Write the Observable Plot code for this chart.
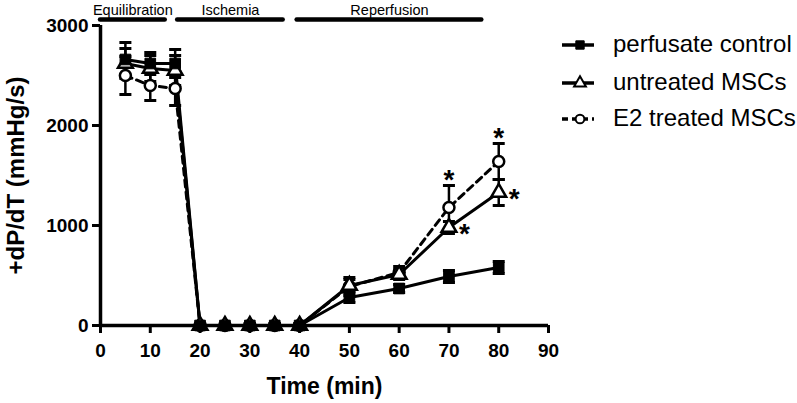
<!DOCTYPE html>
<html>
<head>
<meta charset="utf-8">
<script src="https://cdn.jsdelivr.net/npm/d3@7"></script>
<script src="https://cdn.jsdelivr.net/npm/@observablehq/plot@0.6"></script>
<style>
  html, body { margin: 0; padding: 0; background: #fff; }
  #chart { width: 797px; height: 403px; }
</style>
</head>
<body>
<div id="chart"></div>
<script>
// ---- data ----
const times = [5, 10, 15, 20, 25, 30, 35, 40, 50, 60, 70, 80];
const seriesNames = ["perfusate control", "untreated MSCs", "E2 treated MSCs"];
const controlValues   = [2660, 2620, 2620, 0, 0, 0, 0, 0, 280, 370, 490, 580];
const controlErr      = [170, 110, 140, 20, 20, 20, 20, 20, 50, 40, 60, 60];
const untreatedValues = [2620, 2570, 2550, 0, 0, 0, 0, 0, 400, 510, 980, 1330];
const untreatedErr    = [150, 130, 150, 20, 20, 20, 20, 20, 60, 50, 60, 130];
const e2Values        = [2500, 2400, 2370, 0, 0, 0, 0, 0, 390, 530, 1180, 1640];
const e2Err           = [190, 150, 170, 20, 20, 20, 20, 20, 90, 60, 220, 180];
const xTicks = [0, 10, 20, 30, 40, 50, 60, 70, 80, 90];
const yTicks = [0, 1000, 2000, 3000];
const phaseLabels = ["Equilibration", "Ischemia", "Reperfusion"];
const phaseStart = [0, 15.5, 39.5];
const phaseEnd = [13, 36.7, 76.6];
const phaseLevel = 3060;
const starAbove = [{t: 70, v: 1400}, {t: 80, v: 1820}];
const starRight = [{t: 70, v: 980}, {t: 80, v: 1330}];

// ---- build tables ----
const valueSets = [controlValues, untreatedValues, e2Values];
const errSets = [controlErr, untreatedErr, e2Err];
const rows = [];
seriesNames.forEach((name, s) => {
  times.forEach((t, i) => {
    rows.push({series: name, t, v: valueSets[s][i], lo: valueSets[s][i] - errSets[s][i], hi: valueSets[s][i] + errSets[s][i]});
  });
});
const bySeries = name => rows.filter(d => d.series === name);
const phases = phaseLabels.map((label, i) => ({label, start: phaseStart[i], end: phaseEnd[i], mid: (phaseStart[i] + phaseEnd[i]) / 2}));

const capSymbol = {draw(ctx, size) { const w = 6; ctx.moveTo(-w, 0); ctx.lineTo(w, 0); }};
const FONT = "'Liberation Sans', Arial, Helvetica, sans-serif";

const errMarks = name => [
  Plot.ruleX(bySeries(name), {x: "t", y1: "lo", y2: "hi", stroke: "black", strokeWidth: 2.5}),
  Plot.dot(bySeries(name), {x: "t", y: "hi", symbol: capSymbol, stroke: "black", strokeWidth: 3, fill: "none"}),
  Plot.dot(bySeries(name), {x: "t", y: "lo", symbol: capSymbol, stroke: "black", strokeWidth: 3, fill: "none"})
];

const plot = Plot.plot({
  width: 797,
  height: 403,
  marginLeft: 100,
  marginRight: 249,
  marginTop: 25,
  marginBottom: 78,
  style: {fontFamily: FONT, background: "#fff", color: "#000", overflow: "visible"},
  x: {domain: [0, 90]},
  y: {domain: [0, 3000]},
  marks: [
    // axes
    Plot.axisX({ticks: xTicks, tickSize: 8, tickPadding: 10, fontSize: 19, fontWeight: "bold", strokeWidth: 3, label: null, tickFormat: d => String(d)}),
    Plot.axisY({ticks: yTicks, tickSize: 8, tickPadding: 4, fontSize: 19, fontWeight: "bold", strokeWidth: 3, label: null, tickFormat: d => String(d)}),
    Plot.ruleX([0], {y1: 0, y2: 3000, stroke: "black", strokeWidth: 3.5}),
    Plot.ruleY([0], {x1: 0, x2: 90, stroke: "black", strokeWidth: 3.5}),
    // axis titles
    Plot.text(["Time (min)"], {frameAnchor: "bottom", dy: 61, fontSize: 23, fontWeight: "bold", fill: "black", lineAnchor: "middle"}),
    Plot.text(["+dP/dT (mmHg/s)"], {frameAnchor: "left", dx: -84, rotate: -90, textAnchor: "middle", fontSize: 24, fontWeight: "bold", fill: "black", lineAnchor: "middle"}),
    // phase bars
    Plot.ruleY(phases, {y: () => phaseLevel, x1: "start", x2: "end", stroke: "black", strokeWidth: 4.5, strokeLinecap: "round"}),
    Plot.text(phases, {x: "mid", y: () => phaseLevel, text: "label", dy: -5, fontSize: 14.5, fill: "black", lineAnchor: "bottom"}),
    // lines
    Plot.line(bySeries(seriesNames[2]), {x: "t", y: "v", stroke: "black", strokeWidth: 3, strokeDasharray: "7,5"}),
    Plot.line(bySeries(seriesNames[1]), {x: "t", y: "v", stroke: "black", strokeWidth: 3}),
    Plot.line(bySeries(seriesNames[0]), {x: "t", y: "v", stroke: "black", strokeWidth: 3}),
    // error bars
    ...errMarks(seriesNames[2]),
    ...errMarks(seriesNames[1]),
    ...errMarks(seriesNames[0]),
    // markers (control drawn last, on top)
    Plot.dot(bySeries(seriesNames[2]), {x: "t", y: "v", symbol: "circle", r: 5.5, fill: "white", stroke: "black", strokeWidth: 2.5}),
    Plot.dot(bySeries(seriesNames[1]), {x: "t", y: "v", symbol: "triangle", r: 5.5, fill: "white", stroke: "black", strokeWidth: 2.5}),
    Plot.dot(bySeries(seriesNames[0]), {x: "t", y: "v", symbol: "square", r: 6, fill: "black", stroke: "black", strokeWidth: 1}),
    // significance stars
    Plot.text(starAbove, {x: "t", y: "v", text: () => "*", fontSize: 28, fontWeight: "bold", fill: "black", lineAnchor: "top", dy: -16}),
    Plot.text(starRight, {x: "t", y: "v", text: () => "*", fontSize: 28, fontWeight: "bold", fill: "black", lineAnchor: "top", textAnchor: "start", dx: 10, dy: -4})
  ]
});

// ---- legend (drawn into the same svg) ----
const svg = d3.select(plot);
const legend = svg.append("g").attr("font-family", FONT).attr("text-anchor", "start");
const legendY = [45, 83, 119];
const legendSymbols = [d3.symbolSquare, d3.symbolTriangle, d3.symbolCircle];
const legendFill = ["black", "white", "white"];
seriesNames.forEach((name, i) => {
  const g = legend.append("g").attr("transform", `translate(0,${legendY[i]})`);
  g.append("line").attr("x1", 562).attr("x2", 594).attr("y1", 0).attr("y2", 0)
    .attr("stroke", "black").attr("stroke-width", 3.5)
    .attr("stroke-dasharray", i === 2 ? "6,4" : null);
  g.append("path").attr("d", d3.symbol(legendSymbols[i], i === 0 ? 70 : 60)())
    .attr("transform", "translate(580,0)")
    .attr("fill", legendFill[i]).attr("stroke", "black").attr("stroke-width", i === 0 ? 1 : 2);
  g.append("text").attr("x", 613).attr("y", 7).attr("font-size", 24).attr("fill", "black")
    .attr("text-anchor", "start").text(name);
});

document.getElementById("chart").appendChild(plot);
</script>
</body>
</html>
